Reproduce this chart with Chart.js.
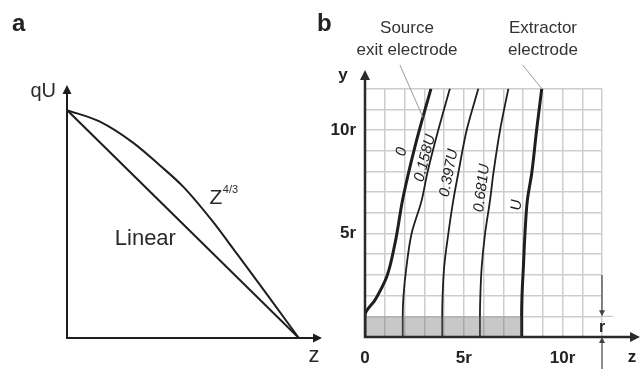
<!DOCTYPE html>
<html>
<head>
<meta charset="utf-8">
<script src="https://cdn.jsdelivr.net/npm/chart.js@4.4.1/dist/chart.umd.min.js"></script>
<style>
  html, body { margin: 0; padding: 0; background: #fff; }
  #wrap { position: relative; width: 642px; height: 369px; overflow: hidden;
          font-family: "Liberation Sans", Arial, sans-serif; color: #222; }
  #chartA { position: absolute; left: 0; top: 0; }
  #chartB { position: absolute; left: 300px; top: 0; }
  .panel { position: absolute; top: 8px; font-weight: bold; font-size: 24px; line-height: 30px; }
  .note { position: absolute; top: 17px; width: 140px; font-size: 17px; line-height: 22px;
          color: #333; text-align: center; }
</style>
</head>
<body>
<div id="wrap">
  <canvas id="chartA" width="335" height="369"></canvas>
  <canvas id="chartB" width="342" height="369"></canvas>
  <div class="panel" style="left:12px">a</div>
  <div class="panel" style="left:317px">b</div>
  <div class="note" style="left:337px">Source<br>exit electrode</div>
  <div class="note" style="left:473px">Extractor<br>electrode</div>
</div>
<script>
// panel a: potential energy along z (both normalised to 1)
const linearZ = [0, 1];
const linearQU = [1, 0];
const powZ = [0, 0.142, 0.286, 0.401, 0.501, 0.631, 0.731, 0.861, 1];
const powQU = [1, 0.949, 0.856, 0.757, 0.664, 0.508, 0.372, 0.194, 0];

// panel b: equipotential lines, z and y in units of r
const potNames = ['0', '0.158U', '0.397U', '0.681U', 'U'];
const potZ0 = [0, 0, 0.51, 1.1, 1.52, 1.92, 2.53, 3.34];
const potY0 = [0, 1.05, 1.79, 2.91, 4.53, 6.7, 9.2, 12];
const potZ1 = [1.91, 1.91, 1.95, 2.1, 2.36, 2.87, 3.15, 3.71, 4.3];
const potY1 = [0, 1, 2, 3.4, 5, 6.6, 7.9, 10, 12];
const potZ2 = [3.91, 3.91, 3.93, 4.01, 4.22, 4.47, 4.72, 5.15, 5.74];
const potY2 = [0, 1, 2, 3.4, 5, 6.6, 7.9, 10, 12];
const potZ3 = [5.82, 5.82, 5.84, 5.91, 6.08, 6.33, 6.5, 6.84, 7.26];
const potY3 = [0, 1, 2, 3.4, 5, 6.6, 7.9, 10, 12];
const potZ4 = [7.93, 7.93, 7.95, 8.02, 8.1, 8.22, 8.44, 8.69, 8.95];
const potY4 = [0, 1, 2, 3.4, 5, 6.6, 7.9, 10, 12];
const beamZ = [0, 7.93];
const beamY = [1, 1];

const xTickValues = [0, 5, 10];
const xTickTexts = ['0', '5r', '10r'];
const yTickValues = [5, 10];
const yTickTexts = ['5r', '10r'];

// where the line names sit (z, y)
const nameZ = [1.86, 3.04, 4.25, 5.92, 7.68];
const nameY = [8.95, 8.64, 7.92, 7.2, 6.38];

const INK = '#1e1e1e';
const FONT = '"Liberation Sans", Arial, sans-serif';

const toPoints = (xs, ys) => xs.map((x, i) => ({ x, y: ys[i] }));

function arrow(ctx, x, y, dir, len = 9, half = 4.5) {
  ctx.beginPath();
  if (dir === 'up') { ctx.moveTo(x, y); ctx.lineTo(x - half, y + len); ctx.lineTo(x + half, y + len); }
  if (dir === 'down') { ctx.moveTo(x, y); ctx.lineTo(x - half, y - len); ctx.lineTo(x + half, y - len); }
  if (dir === 'right') { ctx.moveTo(x, y); ctx.lineTo(x - len, y - half); ctx.lineTo(x - len, y + half); }
  ctx.closePath();
  ctx.fill();
}

const curveStyle = { borderColor: INK, borderWidth: 2, pointRadius: 0, fill: false };

const axesA = {
  id: 'axesA',
  afterDatasetsDraw(chart) {
    const { ctx, scales: { x, y } } = chart;
    const x0 = x.getPixelForValue(0), y0 = y.getPixelForValue(0);
    const top = chart.chartArea.top, right = chart.chartArea.right;
    ctx.save();
    ctx.strokeStyle = INK; ctx.fillStyle = INK; ctx.lineWidth = 2;
    ctx.beginPath();
    ctx.moveTo(x0, top + 6); ctx.lineTo(x0, y0); ctx.lineTo(right - 6, y0);
    ctx.stroke();
    arrow(ctx, x0, top, 'up');
    arrow(ctx, right, y0, 'right');

    ctx.fillStyle = '#2a2a2a';
    ctx.font = '20px ' + FONT;
    ctx.textBaseline = 'middle';
    ctx.textAlign = 'right';
    ctx.fillText('qU', x0 - 11, top + 6);
    ctx.textAlign = 'center';
    ctx.font = '22px ' + FONT;
    ctx.fillText('z', right - 8, y0 + 18);
    ctx.fillText('Linear', x.getPixelForValue(0.338), y.getPixelForValue(0.436));
    const zx = x.getPixelForValue(0.642), zy = y.getPixelForValue(0.614);
    ctx.font = '21px ' + FONT;
    ctx.fillText('Z', zx, zy);
    ctx.font = '11px ' + FONT;
    ctx.textAlign = 'left';
    ctx.fillText('4/3', zx + 7, zy - 8);
    ctx.restore();
  }
};

new Chart(document.getElementById('chartA'), {
  type: 'line',
  data: {
    datasets: [
      { label: 'Linear', data: toPoints(linearZ, linearQU), tension: 0, ...curveStyle },
      { label: 'Z4/3', data: toPoints(powZ, powQU), cubicInterpolationMode: 'monotone', ...curveStyle }
    ]
  },
  options: {
    responsive: false,
    animation: false,
    layout: { padding: { left: 67, right: 13, top: 85, bottom: 31 } },
    plugins: { legend: { display: false }, tooltip: { enabled: false } },
    scales: {
      x: { type: 'linear', min: 0, max: 1.1, display: false },
      y: { type: 'linear', min: 0, max: 1.11, display: false }
    }
  },
  plugins: [axesA]
});

const potLines = [
  toPoints(potZ0, potY0), toPoints(potZ1, potY1), toPoints(potZ2, potY2),
  toPoints(potZ3, potY3), toPoints(potZ4, potY4)
];

const overlayB = {
  id: 'overlayB',
  afterDatasetsDraw(chart) {
    const { ctx, scales: { x, y } } = chart;
    const px = v => x.getPixelForValue(v), py = v => y.getPixelForValue(v);
    const x0 = px(0), y0 = py(0);
    ctx.save();

    // leader lines to the two electrodes
    ctx.strokeStyle = '#9a9a9a'; ctx.lineWidth = 1;
    ctx.beginPath();
    ctx.moveTo(px(1.77), py(13.14)); ctx.lineTo(px(2.94), py(10.6));
    ctx.moveTo(px(7.98), py(13.14)); ctx.lineTo(px(8.95), py(12));
    ctx.stroke();

    // axes with arrows
    ctx.strokeStyle = '#2a2a2a'; ctx.fillStyle = '#2a2a2a'; ctx.lineWidth = 2.5;
    ctx.beginPath();
    ctx.moveTo(x0, 78); ctx.lineTo(x0, y0); ctx.lineTo(332, y0);
    ctx.stroke();
    arrow(ctx, x0, 70, 'up', 10, 5);
    arrow(ctx, 340, y0, 'right', 10, 5);

    // r dimension at the right edge
    const xd = px(12);
    ctx.strokeStyle = '#bdbdbd'; ctx.lineWidth = 1;
    ctx.beginPath(); ctx.moveTo(xd, py(1)); ctx.lineTo(px(12.55), py(1)); ctx.stroke();
    ctx.strokeStyle = '#444'; ctx.fillStyle = '#444'; ctx.lineWidth = 1.2;
    ctx.beginPath();
    ctx.moveTo(xd, py(3)); ctx.lineTo(xd, py(1) - 5);
    ctx.moveTo(xd, y0 + 5); ctx.lineTo(xd, 369);
    ctx.stroke();
    arrow(ctx, xd, py(1), 'down', 6, 3);
    arrow(ctx, xd, y0, 'up', 6, 3);

    ctx.fillStyle = '#222';
    ctx.textAlign = 'center'; ctx.textBaseline = 'middle';
    ctx.font = 'bold 16px ' + FONT;
    ctx.fillText('r', xd, py(1) + 11);
    ctx.font = 'bold 17px ' + FONT;
    ctx.fillText('y', 43, 75);
    ctx.fillText('z', 332, 357);

    // names along the equipotentials
    ctx.font = 'italic 15px ' + FONT;
    potNames.forEach((name, i) => {
      const pts = potLines[i];
      let k = 1;
      while (k < pts.length - 1 && pts[k].y < nameY[i]) k++;
      const a = Math.atan2(py(pts[k].y) - py(pts[k - 1].y), px(pts[k].x) - px(pts[k - 1].x));
      ctx.save();
      ctx.translate(px(nameZ[i]), py(nameY[i]));
      ctx.rotate(a);
      ctx.fillText(name, 0, 0);
      ctx.restore();
    });
    ctx.restore();
  }
};

const thick = [3, 1.8, 1.8, 1.8, 3];

new Chart(document.getElementById('chartB'), {
  type: 'line',
  data: {
    datasets: [
      {
        label: 'beam', data: toPoints(beamZ, beamY), fill: 'origin',
        backgroundColor: 'rgba(110,110,110,0.38)', borderWidth: 0, pointRadius: 0, tension: 0
      },
      // the equipotentials run upwards, so y is their index axis
      ...potNames.map((name, i) => ({
        label: name, data: potLines[i], indexAxis: 'y', borderColor: INK, borderWidth: thick[i],
        pointRadius: 0, fill: false, cubicInterpolationMode: 'monotone'
      }))
    ]
  },
  options: {
    responsive: false,
    animation: false,
    layout: { padding: { left: 0, right: 40, top: 88.6, bottom: 0 } },
    plugins: { legend: { display: false }, tooltip: { enabled: false } },
    scales: {
      x: {
        type: 'linear', min: 0, max: 12,
        afterFit: s => { s.height = 32; },
        border: { display: false },
        grid: { color: '#cdcdcd', lineWidth: 1.5, drawTicks: false },
        ticks: {
          stepSize: 1, autoSkip: false, maxRotation: 0, padding: 11,
          color: '#222', font: { family: FONT, size: 17, weight: 'bold' },
          callback: v => { const i = xTickValues.indexOf(v); return i >= 0 ? xTickTexts[i] : ''; }
        }
      },
      y: {
        type: 'linear', min: 0, max: 12,
        afterFit: s => { s.width = 65; },
        border: { display: false },
        grid: { color: '#cdcdcd', lineWidth: 1.5, drawTicks: false },
        ticks: {
          stepSize: 1, autoSkip: false, padding: 9,
          color: '#222', font: { family: FONT, size: 17, weight: 'bold' },
          callback: v => { const i = yTickValues.indexOf(v); return i >= 0 ? yTickTexts[i] : ''; }
        }
      }
    }
  },
  plugins: [overlayB]
});
</script>
</body>
</html>
